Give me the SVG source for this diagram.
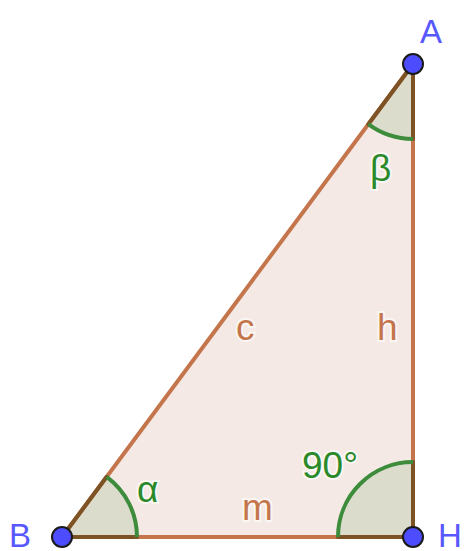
<svg xmlns="http://www.w3.org/2000/svg" width="464" height="551" viewBox="0 0 464 551">
<style>
.edge{stroke:#c4754b;stroke-width:4;fill:none;stroke-linecap:round}
.dark{stroke:#7d5224;stroke-width:4;fill:none;stroke-linecap:round}
.sector{fill:#dcdccd;stroke:none}
.arc{stroke:#3c8c3c;stroke-width:4;fill:none}
.pt{fill:#4d4dff;stroke:#1a1a1a;stroke-width:2}
.lbl{font-family:"Liberation Sans",Arial,sans-serif;font-size:37px}
.nl{font-family:"Liberation Sans",Arial,sans-serif;font-size:33px}
.blue{fill:#5858ff}
.green{fill:#2a8a2a;stroke:#ffffff;stroke-opacity:0.6;stroke-width:4;paint-order:stroke}
.brown{fill:#c4754b;stroke:#ffffff;stroke-opacity:0.6;stroke-width:4;paint-order:stroke}
</style>
<rect width="464" height="551" fill="#ffffff"/>
<polygon points="413,64 62,537 413,537" fill="#f4e9e4"/>
<g id="angles">
<path class="sector" d="M62,537 L137,537 A75,75 0 0 0 106.7,476.8 Z"/>
<path class="sector" d="M413,64 L413,139 A75,75 0 0 1 368.3,124.2 Z"/>
<path class="sector" d="M413,537 L338,537 A75,75 0 0 1 413,462 Z"/>
</g>
<g id="connectors">
<line class="edge" x1="62" y1="537" x2="413" y2="64"/>
<line class="edge" x1="413" y1="64" x2="413" y2="537"/>
<line class="edge" x1="62" y1="537" x2="413" y2="537"/>
<line class="dark" x1="62" y1="537" x2="137" y2="537"/>
<line class="dark" x1="62" y1="537" x2="106.7" y2="476.8"/>
<line class="dark" x1="413" y1="64" x2="413" y2="139"/>
<line class="dark" x1="413" y1="64" x2="368.3" y2="124.2"/>
<line class="dark" x1="413" y1="537" x2="338" y2="537"/>
<line class="dark" x1="413" y1="537" x2="413" y2="462"/>
</g>
<g id="arcs">
<path class="arc" d="M137,537 A75,75 0 0 0 106.7,476.8"/>
<path class="arc" d="M413,139 A75,75 0 0 1 368.3,124.2"/>
<path class="arc" d="M338,537 A75,75 0 0 1 413,462"/>
</g>
<g id="edge-labels">
<text class="lbl brown" x="236" y="340">c</text>
<text class="lbl brown" x="377" y="340">h</text>
<text class="lbl brown" x="242" y="520">m</text>
<text class="lbl green" x="370" y="181">β</text>
<text class="lbl green" x="137" y="502">α</text>
<text class="lbl green" x="302" y="478">90°</text>
</g>
<g id="node-A">
<circle class="pt" cx="413" cy="64" r="10"/>
<text class="nl blue" x="420" y="43">A</text>
</g>
<g id="node-B">
<circle class="pt" cx="62" cy="537" r="10"/>
<text class="nl blue" x="9" y="547">B</text>
</g>
<g id="node-H">
<circle class="pt" cx="413" cy="537" r="10"/>
<text class="nl blue" x="438" y="547">H</text>
</g>
</svg>
